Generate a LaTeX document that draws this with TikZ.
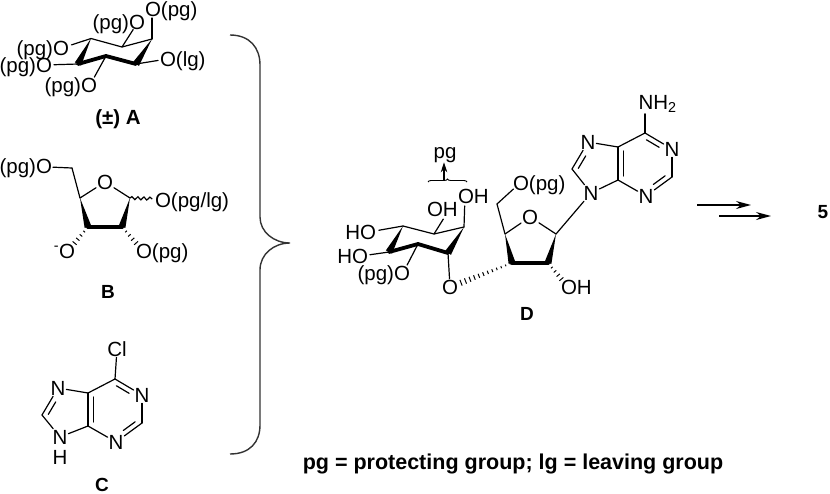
\documentclass[tikz,border=0pt]{standalone}
\usepackage{fontspec}
\setmainfont{Liberation Sans}
\usetikzlibrary{arrows.meta,calc,decorations.pathmorphing,decorations.pathreplacing}
\tikzset{
    atom/.style={inner sep=0.8pt, text height=14.7pt, text depth=0pt, font=\fontsize{20.5}{22}\selectfont},
    title/.style={inner sep=0pt, font=\fontsize{19}{22}\selectfont\bfseries},
    bond/.style={line width=1.2pt, line cap=round},
    boldbond/.style={line width=3.8pt, line cap=round, line join=round},
    reactarrow/.style={line width=1.2pt, -{Stealth[length=15pt,width=8pt]}},
    bigbrace/.style={line width=1.4pt, color=black!80},
}
\begin{document}
\begin{tikzpicture}[x=1pt, y=-1pt]
    \useasboundingbox (0,0) rectangle (830,493);

    % Ring A
    \coordinate (a1) at (91,38.5);
    \coordinate (a2) at (122,47);
    \coordinate (a3) at (152,39);
    \coordinate (a4) at (136,64);
    \coordinate (a5) at (106,56);
    \coordinate (a6) at (78,64);
    \node[atom, anchor=west] (oa3) at (144,9) {O(pg)};
    \node[atom, anchor=east] (oa2) at (146,22) {(pg)O};
    \node[atom, anchor=east] (oa1) at (70,48) {(pg)O};
    \node[atom, anchor=east] (oa6) at (53,65) {(pg)O};
    \node[atom, anchor=east] (oa5) at (98,85) {(pg)O};
    \node[atom, anchor=west] (oa4) at (159,59) {O(lg)};
    \node[title, font=\fontsize{20.5}{22}\selectfont\bfseries] (labela) at (118,119) {(±) A};
    \draw[bond] (a1) -- (a2) -- (a3);
    \fill (a3) -- ($(a4)!3.5pt!90:(a3)$) -- ($(a4)!3.5pt!-90:(a3)$) -- cycle;
    \fill (a1) -- ($(a6)!3.5pt!90:(a1)$) -- ($(a6)!3.5pt!-90:(a1)$) -- cycle;
    \draw[boldbond] (a4) -- (a5) -- (a6);
    \draw[bond, shorten >=9pt] (a3) -- ([xshift=8pt]oa3.west);
    \draw[bond, shorten >=9pt] (a2) -- ([xshift=-8pt]oa2.east);
    \draw[bond, shorten >=10pt] (a1) -- ([xshift=-8pt]oa1.east);
    \draw[bond, shorten >=9pt] (a6) -- ([xshift=-8pt]oa6.east);
    \draw[bond, shorten >=9pt] (a5) -- ([xshift=-8pt]oa5.east);
    \draw[bond, shorten >=9pt] (a4) -- ([xshift=8pt]oa4.west);

    % Sugar B
    \coordinate (b1) at (80,198);
    \node[atom] (ob) at (105,182) {O};
    \coordinate (b2) at (130,198);
    \coordinate (b3) at (122,227);
    \coordinate (b4) at (88,227);
    \coordinate (b5) at (72,168);
    \node[atom, anchor=east] (ob5) at (53,166) {(pg)O};
    \node[atom, anchor=west] (ob2) at (154,200) {O(pg/lg)};
    \node[atom, anchor=west] (ob3) at (135,251) {O(pg)};
    \node[atom, anchor=east] (ob4) at (76,251) {\textsuperscript{-}O};
    \node[title] (labelb) at (108,292) {B};
    \draw[bond] (b1) -- (ob);
    \draw[bond] (ob) -- (b2);
    \draw[bond] (b1) -- (b5);
    \draw[bond] (b5) -- (ob5);
    \fill (b1) -- ($(b4)!3.5pt!90:(b1)$) -- ($(b4)!3.5pt!-90:(b1)$) -- cycle;
    \fill (b2) -- ($(b3)!3.5pt!90:(b2)$) -- ($(b3)!3.5pt!-90:(b2)$) -- cycle;
    \draw[boldbond] (b4) -- (b3);
    \draw[bond, decorate, decoration={snake, amplitude=1.5pt, segment length=6pt}, shorten >=2pt] (b2) -- (ob2);

    % Purine C
    \node[atom] (cl) at (117,349) {Cl};
    \coordinate (c6) at (115,379);
    \node[atom] (n1) at (142,395) {N};
    \coordinate (c2) at (142,423);
    \node[atom] (n3) at (116,442) {N};
    \coordinate (c4) at (88,426);
    \coordinate (c5) at (88,393);
    \node[atom] (n7) at (58,388) {N};
    \coordinate (c8) at (42,415);
    \node[atom] (n9) at (60,437) {N};
    \node[atom] (h9) at (60,457) {H};
    \node[title] (labelc) at (102,484.5) {C};
    \draw[bond] (c6) -- (cl);
    \draw[bond] (c6) -- (n1);
    \draw[bond] (n1) -- (c2);
    \draw[bond] (c2) -- (n3);
    \draw[bond] (n3) -- (c4);
    \draw[bond] (c4) -- (c5);
    \draw[bond] (c5) -- (c6);
    \draw[bond] (c5) -- (n7);
    \draw[bond] (n7) -- (c8);
    \draw[bond] (c8) -- (n9);
    \draw[bond] (n9) -- (c4);
    \draw[bond] ($(c6)!.15!(n1)+(-2.6,4.4)$) -- ($(c6)!.62!(n1)+(-2.6,4.4)$);
    \draw[bond] ($(c2)!.15!(n3)+(-3,-4)$) -- ($(c2)!.6!(n3)+(-3,-4)$);
    \draw[bond] ($(c5)!.12!(c4)+(5.5,0)$) -- ($(c5)!.88!(c4)+(5.5,0)$);
    \draw[bond] ($(n7)!.42!(c8)+(4.4,2.6)$) -- ($(n7)!.88!(c8)+(4.4,2.6)$);

    % Big brace
    \coordinate (bracetop) at (230,35);
    \coordinate (bracetip) at (290,243);
    \coordinate (bracebot) at (230,454);
    \draw[bigbrace] (bracetop) .. controls (250,35) and (260,48) .. (260,65) -- (260,217)
        .. controls (260,232) and (274,243) .. (bracetip)
        .. controls (274,243) and (260,254) .. (260,270) -- (260,425)
        .. controls (260,442) and (250,454) .. (bracebot);

    % Inositol of D
    \coordinate (i1) at (403,226);
    \coordinate (i2) at (434,234);
    \coordinate (i3) at (464,227);
    \coordinate (i4) at (448,253);
    \coordinate (i5) at (418,244);
    \coordinate (i6) at (389,252);
    \node[atom, anchor=west] (oi3) at (457,196) {OH};
    \node[atom, anchor=west] (oi2) at (426,209) {OH};
    \node[atom, anchor=east] (oi1) at (377,232) {HO};
    \node[atom, anchor=east] (oi6) at (369,256) {HO};
    \node[atom, anchor=east] (oi5) at (411,273) {(pg)O};
    \node[atom] (oi4) at (450,287) {O};
    \draw[bond] (i1) -- (i2) -- (i3);
    \fill (i3) -- ($(i4)!3.5pt!90:(i3)$) -- ($(i4)!3.5pt!-90:(i3)$) -- cycle;
    \fill (i1) -- ($(i6)!3.5pt!90:(i1)$) -- ($(i6)!3.5pt!-90:(i1)$) -- cycle;
    \draw[boldbond] (i4) -- (i5) -- (i6);
    \draw[bond, shorten >=10pt] (i3) -- ([xshift=8pt]oi3.west);
    \draw[bond, shorten >=2pt] (i2) -- ([xshift=2pt]oi2.south);
    \draw[bond, shorten >=10pt] (i1) -- ([xshift=-8pt]oi1.east);
    \draw[bond, shorten >=9pt] (i6) -- ([xshift=-8pt]oi6.east);
    \draw[bond, shorten >=9pt] (i5) -- ([xshift=-8pt]oi5.east);
    \draw[bond] (i4) -- (oi4);

    % Small brace and pg
    \coordinate (smallleft) at (428,182);
    \coordinate (smallright) at (467,182);
    \coordinate (smalltip) at (444,180);
    \node[atom] (pgtop) at (445,151) {pg};
    \draw[line width=0.9pt, decorate, decoration={brace, amplitude=3pt}] (smallleft) -- (smallright);
    \draw[line width=1.1pt, -{Stealth[length=10pt,width=6.5pt]}, shorten >=3pt] (smalltip) -- (smalltip |- pgtop.south);

    % Sugar of D
    \coordinate (d1) at (505,234);
    \node[atom] (od) at (530,217) {O};
    \coordinate (d2) at (556,234);
    \coordinate (d3) at (548,263);
    \coordinate (d4) at (512,263);
    \coordinate (d5) at (497,204);
    \node[atom, anchor=west] (od5) at (512,183) {O(pg)};
    \node[atom, anchor=west] (od3) at (560,287) {OH};
    \node[title] (labeld) at (527,314) {D};
    \draw[bond] (d1) -- (od);
    \draw[bond] (od) -- (d2);
    \draw[bond] (d1) -- (d5);
    \draw[bond, shorten >=9pt] (d5) -- ([xshift=8pt]od5.west);
    \fill (d1) -- ($(d4)!3.5pt!90:(d1)$) -- ($(d4)!3.5pt!-90:(d1)$) -- cycle;
    \fill (d2) -- ($(d3)!3.5pt!90:(d2)$) -- ($(d3)!3.5pt!-90:(d2)$) -- cycle;
    \draw[boldbond] (d4) -- (d3);

    % Adenine of D
    \node[atom, anchor=west] (nh2) at (637.5,102.5) {NH\textsubscript{2}};
    \coordinate (e6) at (645,133);
    \node[atom] (m1) at (672,149) {N};
    \coordinate (e2) at (672,177);
    \node[atom] (m3) at (646,196) {N};
    \coordinate (e4) at (618,180);
    \coordinate (e5) at (618,147);
    \node[atom] (m7) at (588,142) {N};
    \coordinate (e8) at (572,169);
    \node[atom] (m9) at (591,193) {N};
    \draw[bond, shorten >=3pt] (e6) -- (e6 |- nh2.south);
    \draw[bond] (e6) -- (m1);
    \draw[bond] (m1) -- (e2);
    \draw[bond] (e2) -- (m3);
    \draw[bond] (m3) -- (e4);
    \draw[bond] (e4) -- (e5);
    \draw[bond] (e5) -- (e6);
    \draw[bond] (e5) -- (m7);
    \draw[bond] (m7) -- (e8);
    \draw[bond] (e8) -- (m9);
    \draw[bond] (m9) -- (e4);
    \draw[bond] (d2) -- (m9);
    \draw[bond] ($(e6)!.15!(m1)+(-2.6,4.4)$) -- ($(e6)!.62!(m1)+(-2.6,4.4)$);
    \draw[bond] ($(e2)!.15!(m3)+(-3,-4)$) -- ($(e2)!.6!(m3)+(-3,-4)$);
    \draw[bond] ($(e5)!.12!(e4)+(5.5,0)$) -- ($(e5)!.88!(e4)+(5.5,0)$);
    \draw[bond] ($(m7)!.42!(e8)+(4.4,2.6)$) -- ($(m7)!.88!(e8)+(4.4,2.6)$);

    % Hashed bonds
    \coordinate (tb4) at ([xshift=-8pt]ob4.east);
    \coordinate (tb3) at ([xshift=8pt]ob3.west);
    \coordinate (td3) at ([xshift=8pt]od3.west);
    \foreach \hs/\he/\tstep/\tend in {b4/tb4/.16/.72, b3/tb3/.16/.72, d3/td3/.16/.72, d4/oi4/.072/.86} {
        \pgfmathsetmacro{\tnext}{.03+\tstep}
        \foreach \t in {.03,\tnext,...,\tend} {
            \pgfmathsetmacro{\hw}{.6+\t*3}
            \coordinate (hp) at ($(\hs)!\t!(\he)$);
            \draw[line width=1pt] ($(hp)!\hw pt!90:(\he)$) -- ($(hp)!\hw pt!-90:(\he)$);
        }
    }

    % Reaction arrows and text
    \coordinate (r1a) at (697,205);
    \coordinate (r1b) at (751,205);
    \coordinate (r2a) at (719,216);
    \coordinate (r2b) at (771,216);
    \draw[reactarrow] (r1a) -- (r1b);
    \draw[reactarrow] (r2a) -- (r2b);
    \node[title] (five) at (823,212) {5};
    \node[title, font=\fontsize{21.5}{24}\selectfont\bfseries] (legend) at (513,464) {pg = protecting group; lg = leaving group};
\end{tikzpicture}
\end{document}
